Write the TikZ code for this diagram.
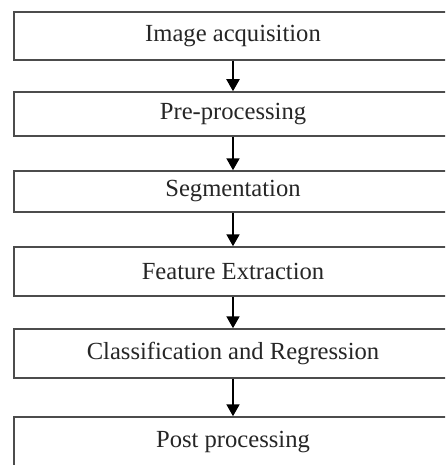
\documentclass[tikz,border=0pt]{standalone}
\usepackage{fontspec}
\setmainfont{Liberation Serif}
\usetikzlibrary{positioning, arrows.meta}
\tikzset{
stage/.style={draw=black!70, line width=0.75pt, rectangle, minimum width=219pt, inner sep=0pt, font=\fontsize{12.3}{14}\selectfont, text=black!85},
flow/.style={line width=1pt, -{Triangle[length=6pt, width=6.5pt]}},
}

\begin{document}
\begin{tikzpicture}[x=0.5pt, y=0.5pt]
    \clip (0,0) rectangle (445,-465);
    \fill[white] (0,0) rectangle (445,-465);

    %stages
    \node[stage, minimum height=24pt] (acq)  at (233,-36)  {Image acquisition};
    \node[stage, minimum height=22pt] (pre)  at (233,-114) {Pre-processing};
    \node[stage, minimum height=20.5pt] (seg)  at (233,-191.5) {Segmentation};
    \node[stage, minimum height=24.5pt] (feat) at (233,-271.5) {Feature Extraction};
    \node[stage, minimum height=24.5pt] (cls)  at (233,-353.5) {Classification and Regression};
    \node[stage, minimum height=25pt] (post) at (233,-442) {Post processing};

    %arrows
    \draw[flow] (acq)  -- (pre);
    \draw[flow] (pre)  -- (seg);
    \draw[flow] (seg)  -- (feat);
    \draw[flow] (feat) -- (cls);
    \draw[flow] (cls)  -- (post);
\end{tikzpicture}
\end{document}
